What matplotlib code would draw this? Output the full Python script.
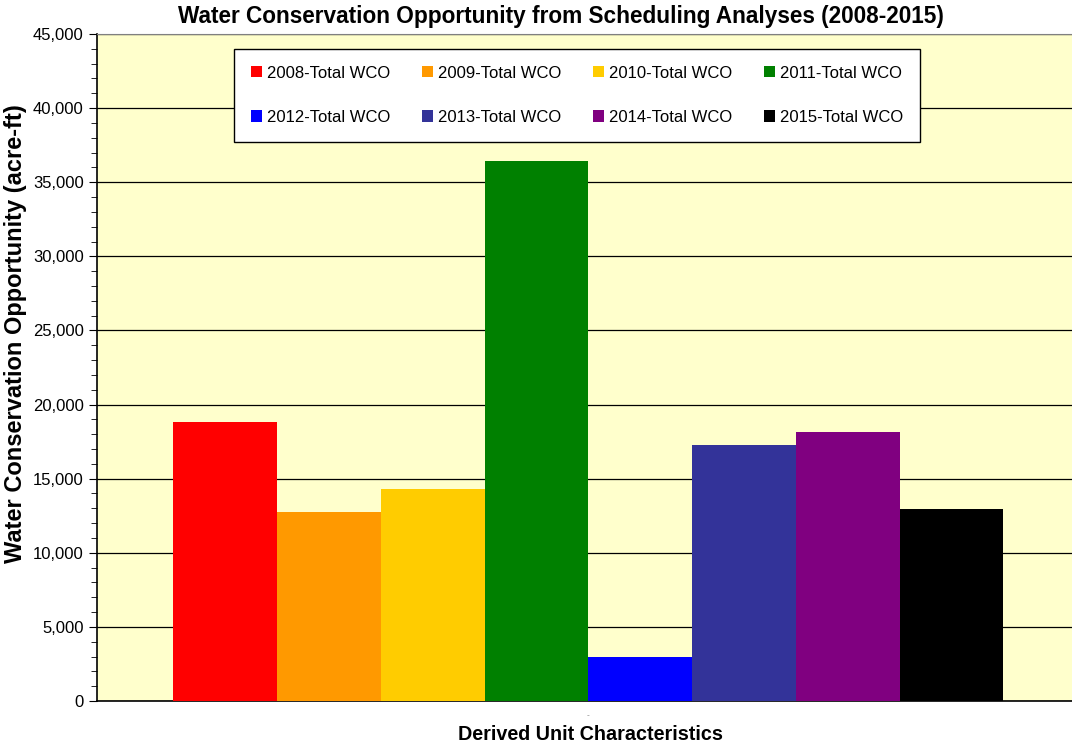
import matplotlib.pyplot as plt
import numpy as np
from matplotlib.ticker import FuncFormatter, MultipleLocator

plt.rcParams['font.family'] = ['Liberation Sans', 'DejaVu Sans']

series = ["2008-Total WCO", "2009-Total WCO", "2010-Total WCO", "2011-Total WCO",
          "2012-Total WCO", "2013-Total WCO", "2014-Total WCO", "2015-Total WCO"]
values = [18800, 12750, 14300, 36400, 2970, 17270, 18150, 12950]
colors = ["#FF0000", "#FF9900", "#FFCC00", "#008000",
          "#0000FF", "#333399", "#800080", "#000000"]

fig = plt.figure(figsize=(10.72, 7.47), dpi=100)
ax = fig.add_axes([97 / 1072, 46 / 747, 1 - 97 / 1072, 667 / 747])
ax.set_facecolor("#FFFFCC")

pos = np.arange(len(values)) - (len(values) - 1) / 2
bars = []
for i in range(len(values)):
    b = ax.bar(pos[i], values[i], width=1.0, color=colors[i], label=series[i], zorder=3)
    bars.append(b)

ax.set_xlim(-4.735, 4.662)
ax.set_ylim(0, 45000)
ax.yaxis.set_major_locator(MultipleLocator(5000))
ax.yaxis.set_minor_locator(MultipleLocator(1000))
ax.yaxis.set_major_formatter(FuncFormatter(lambda v, p: f"{int(v):,}"))
ax.grid(axis='y', which='major', color='black', linewidth=0.9, zorder=1)
ax.set_xticks([0])
ax.set_xticklabels(["-"], fontsize=6, color='gray')
ax.tick_params(axis='x', length=0, pad=8)
ax.tick_params(axis='y', which='major', length=6, labelsize=12, direction='out')
ax.tick_params(axis='y', which='minor', length=4, direction='out')

ax.spines['right'].set_visible(False)
ax.spines['top'].set_color('gray')
ax.spines['left'].set_color('black')
ax.spines['bottom'].set_color('black')
ax.spines['left'].set_linewidth(1.2)
ax.spines['bottom'].set_linewidth(1.2)

fig.text(561 / 1072, 1 - 17 / 747,
         "Water Conservation Opportunity from Scheduling Analyses (2008-2015)",
         fontsize=16.3, fontweight='bold', ha='center', va='center')
fig.text(16 / 1072, 1 - 334 / 747, "Water Conservation Opportunity (acre-ft)",
         fontsize=17, fontweight='bold', rotation=90, ha='center', va='center')
fig.text(590 / 1072, 1 - 735 / 747, "Derived Unit Characteristics",
         fontsize=14.2, fontweight='bold', ha='center', va='center')

# row-major legend order for 4 columns x 2 rows
order = [0, 4, 1, 5, 2, 6, 3, 7]
leg = ax.legend([bars[k] for k in order], [series[k] for k in order],
                loc='upper left', bbox_to_anchor=((234 - 97) / 975, (701 - 49) / 667),
                ncol=4, fontsize=12, frameon=True, fancybox=False,
                handlelength=0.66, handleheight=0.66, handletextpad=0.3,
                columnspacing=1.9, labelspacing=1.75, borderpad=1.0, borderaxespad=0)
leg.get_frame().set_edgecolor('black')
leg.get_frame().set_linewidth(1.0)
leg.get_frame().set_facecolor('white')
leg.get_frame().set_alpha(1)

fig.savefig("out.png", dpi=100)
